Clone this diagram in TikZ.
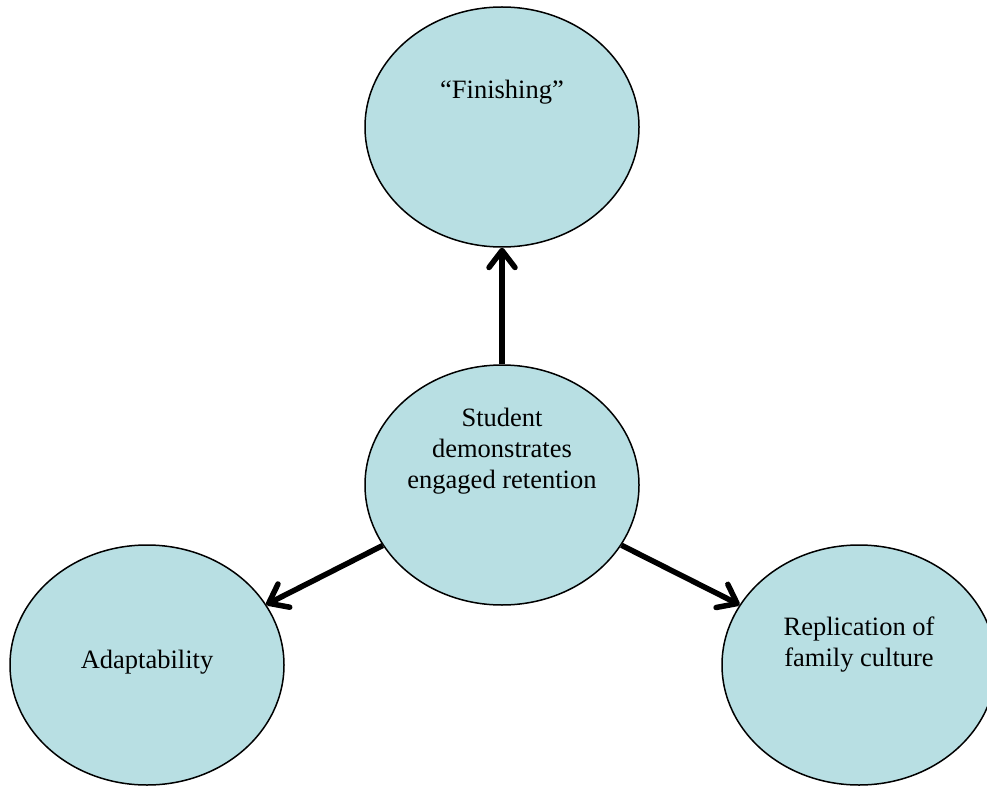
\documentclass[tikz,border=0pt]{standalone}
\usepackage{fontspec}
\setmainfont{Liberation Serif}
\usetikzlibrary{shapes.geometric,arrows.meta}
\definecolor{bubblefill}{HTML}{B8DFE3}
\tikzset{
  bubble/.style={ellipse, draw, line width=1.5pt, fill=bubblefill,
    minimum width=274pt, minimum height=240pt, inner sep=0pt},
  bubbletext/.style={align=center, font=\fontsize{26.5}{31}\selectfont},
  link/.style={line width=5.5pt,
    -{Straight Barb[length=17pt,width=26pt,round]}}
}
\begin{document}
\begin{tikzpicture}[x=1pt,y=-1pt]
    \useasboundingbox (0,0) rectangle (987,786);

    % the four ellipses
    \node[bubble] (finish) at (502,127) {};
    \node[bubble] (engaged) at (502,485) {};
    \node[bubble] (adapt) at (147,665) {};
    \node[bubble] (family) at (859,665) {};

    % their texts
    \node[bubbletext] (finishtext) at (502,92) {``Finishing''};
    \node[bubbletext] (engagedtext) at (502,451) {Student\\demonstrates\\engaged retention};
    \node[bubbletext] (adapttext) at (147,662) {Adaptability};
    \node[bubbletext] (familytext) at (859,645) {Replication of\\family culture};

    % arrows out of the middle
    \draw[link] (engaged) -- (finish);
    \draw[link] (engaged) -- (adapt);
    \draw[link] (engaged) -- (family);

\end{tikzpicture}
\end{document}
